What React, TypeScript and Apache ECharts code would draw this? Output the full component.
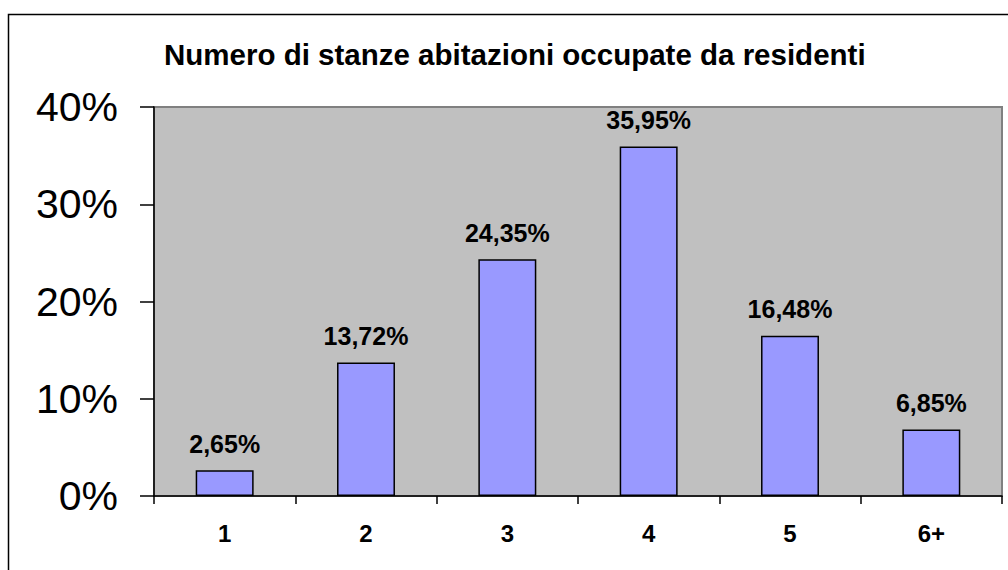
import React, { useEffect, useRef } from "react";
import * as echarts from "echarts";

const categories = ["1", "2", "3", "4", "5", "6+"];
const values = [2.65, 13.72, 24.35, 35.95, 16.48, 6.85];
const yTicks = [0, 10, 20, 30, 40];
const titleText = "Numero di stanze abitazioni occupate da residenti";

export default function App() {
  const ref = useRef<HTMLDivElement>(null);
  useEffect(() => {
    if (!ref.current) return;
    const chart = echarts.init(ref.current, undefined, { renderer: "svg" });
    const font = "'Liberation Sans', Arial, sans-serif";
    chart.setOption({
      animation: false,
      backgroundColor: "#ffffff",
      title: {
        text: titleText,
        left: 159,
        top: 34,
        textStyle: { fontFamily: font, fontWeight: "bold", fontSize: 29.5, color: "#000" },
      },
      graphic: [
        {
          type: "rect",
          shape: { x: 8.5, y: 14.5, width: 1100, height: 700 },
          style: { fill: "none", stroke: "#000", lineWidth: 1.5 },
          silent: true,
          z: 100,
        },
      ],
      grid: {
        left: 154,
        right: 6,
        top: 107,
        bottom: 74,
        show: true,
        backgroundColor: "#c0c0c0",
        borderColor: "#808080",
        borderWidth: 2,
      },
      xAxis: {
        type: "category",
        data: categories,
        axisLine: { lineStyle: { color: "#000", width: 1.5 } },
        axisTick: { show: true, length: 8, lineStyle: { color: "#000", width: 1.5 } },
        axisLabel: {
          fontFamily: font,
          fontWeight: "bold",
          fontSize: 24,
          color: "#000",
          margin: 25,
        },
        splitLine: { show: false },
      },
      yAxis: {
        type: "value",
        min: yTicks[0],
        max: yTicks[yTicks.length - 1],
        interval: 10,
        axisLine: { show: true, lineStyle: { color: "#000", width: 1.5 } },
        axisTick: { show: true, length: 14, lineStyle: { color: "#000", width: 1.5 } },
        axisLabel: {
          fontFamily: font,
          fontSize: 41,
          color: "#000",
          margin: 36,
          formatter: (v: number) => `${v}%`,
        },
        splitLine: { show: false },
      },
      series: [
        {
          type: "bar",
          data: values,
          barWidth: "41%",
          itemStyle: { color: "#9999ff", borderColor: "#000", borderWidth: 1.5 },
          label: {
            show: true,
            position: "top",
            distance: 14,
            fontFamily: font,
            fontWeight: "bold",
            fontSize: 25,
            color: "#000",
            formatter: (p: any) => `${p.value.toFixed(2).replace(".", ",")}%`,
          },
        },
      ],
    });
    return () => chart.dispose();
  }, []);
  return (
    <div
      ref={ref}
      style={{ position: "fixed", left: 0, top: 0, width: 1008, height: 570 }}
    />
  );
}
